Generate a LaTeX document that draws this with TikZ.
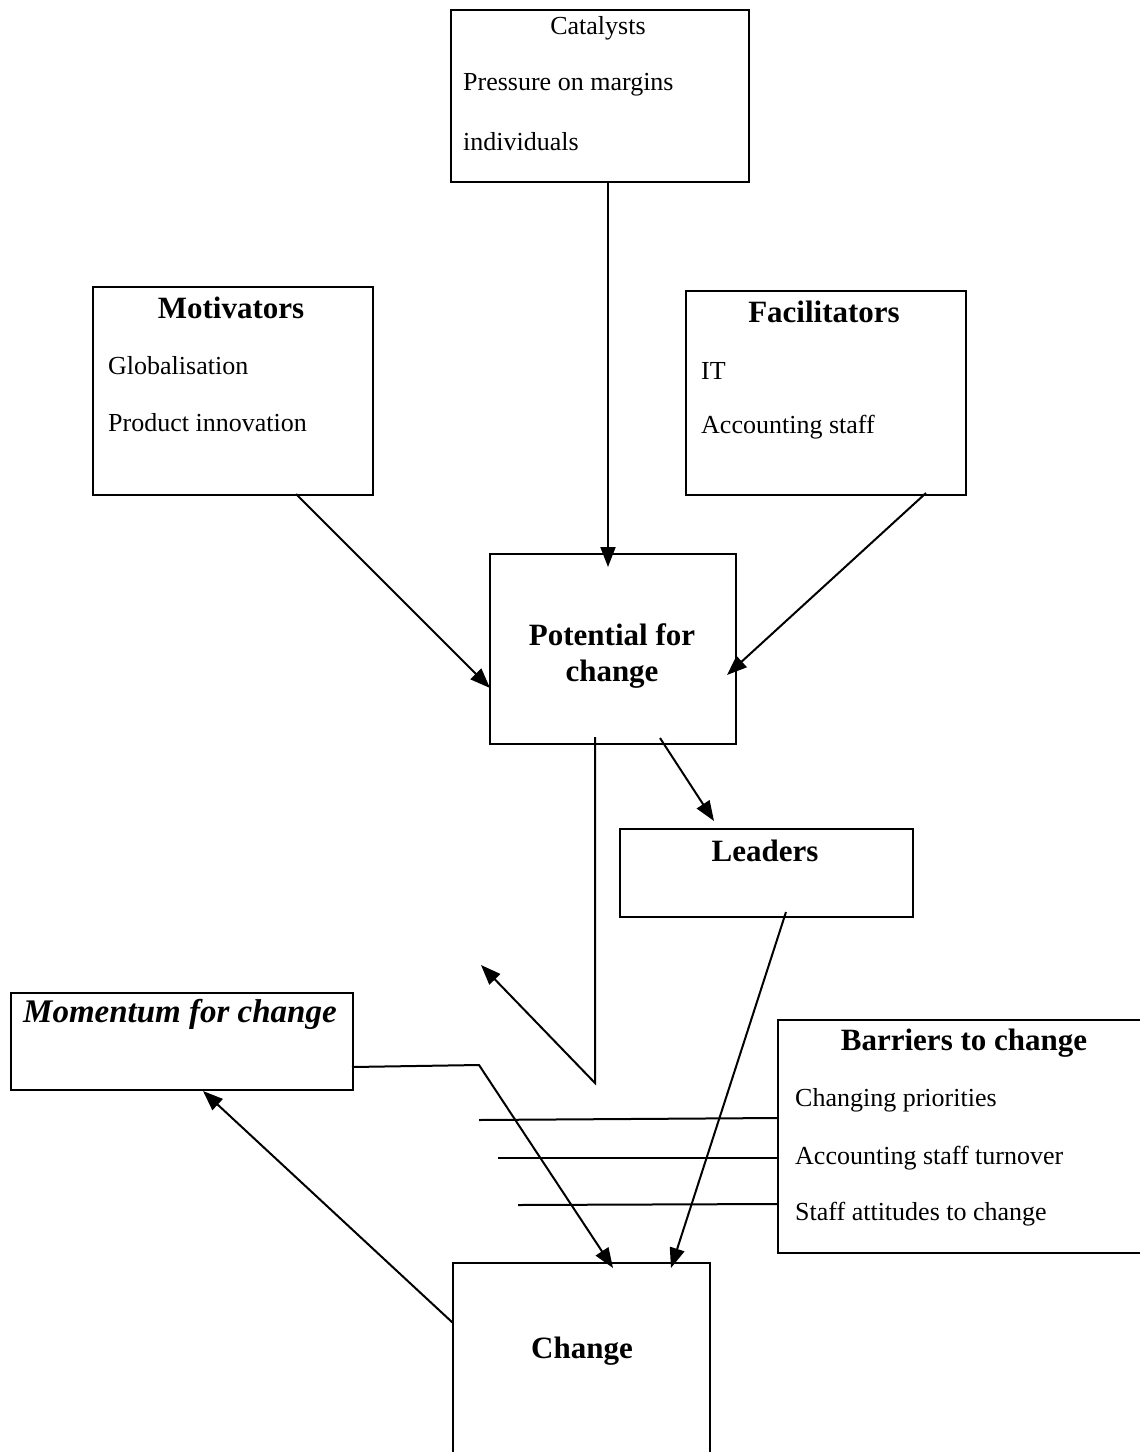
\documentclass[tikz,border=0pt]{standalone}
\usepackage{fontspec}
\setmainfont{Liberation Serif}
\usetikzlibrary{arrows.meta}
\begin{document}
\begin{tikzpicture}[x=1pt,y=-1pt,
  boxframe/.style={draw,line width=1.5pt,inner sep=0pt,anchor=north west},
  headtxt/.style={inner sep=0pt,font=\fontsize{31}{36}\selectfont\bfseries},
  itemtxt/.style={inner sep=0pt,anchor=west,font=\fontsize{26}{30}\selectfont},
  link/.style={line width=2pt,-{Triangle[length=20pt,width=15pt]}},
  plain/.style={line width=2pt}]
\useasboundingbox (0,0) rectangle (1140,1452);

% boxes
\node[boxframe,minimum width=298pt,minimum height=172pt] (cat) at (450,9) {};
\node[boxframe,minimum width=280pt,minimum height=208pt] (mot) at (92,286) {};
\node[boxframe,minimum width=280pt,minimum height=204pt] (fac) at (685,290) {};
\node[boxframe,minimum width=246pt,minimum height=190pt] (pot) at (489,553) {};
\node[boxframe,minimum width=293pt,minimum height=88pt] (lead) at (619,828) {};
\node[boxframe,minimum width=342pt,minimum height=97pt] (mom) at (10,992) {};
% boxes running off the page edge: three sides only
\coordinate (barTR) at (1140,1020);
\coordinate (barTL) at (778,1020);
\coordinate (barBL) at (778,1253);
\coordinate (barBR) at (1140,1253);
\draw[line width=1.5pt] (barTR) -- (barTL) -- (barBL) -- (barBR);
\coordinate (chgBL) at (453,1452);
\coordinate (chgTL) at (453,1263);
\coordinate (chgTR) at (710,1263);
\coordinate (chgBR) at (710,1452);
\draw[line width=1.5pt] (chgBL) -- (chgTL) -- (chgTR) -- (chgBR);

% texts
\node[inner sep=0pt,font=\fontsize{26}{30}\selectfont] (catT) at (598,28) {Catalysts};
\node[itemtxt] (cat1) at (463,85) {Pressure on margins};
\node[itemtxt] (cat2) at (463,142) {individuals};

\node[headtxt] (motT) at (231,308) {Motivators};
\node[itemtxt] (mot1) at (108,366) {Globalisation};
\node[itemtxt] (mot2) at (108,423) {Product innovation};

\node[headtxt] (facT) at (824,312) {Facilitators};
\node[itemtxt] (fac1) at (701,371) {IT};
\node[itemtxt] (fac2) at (701,427) {Accounting staff};

\node[headtxt,align=center] (potT) at (612,656) {Potential for\\change};
\node[headtxt] (leadT) at (765,851) {Leaders};
\node[headtxt,anchor=west,font=\fontsize{33}{36}\selectfont\bfseries\itshape] (momT) at (23,1014) {Momentum for change};

\node[headtxt] (barT) at (964,1043) {Barriers to change};
\node[itemtxt] (bar1) at (795,1100) {Changing priorities};
\node[itemtxt] (bar2) at (795,1158) {Accounting staff turnover};
\node[itemtxt] (bar3) at (795,1214) {Staff attitudes to change};

\node[headtxt] (chgT) at (582,1351) {Change};

% connector end points
\coordinate (catOut) at (608,181);
\coordinate (potIn) at (608,567);
\coordinate (motOut) at (296,494);
\coordinate (potInL) at (490,688);
\coordinate (facOut) at (926,493);
\coordinate (potInR) at (727,675);
\coordinate (potOutR) at (660,738);
\coordinate (leadIn) at (714,821);
\coordinate (potOutL) at (595,737);
\coordinate (turn) at (595,1083);
\coordinate (backTip) at (481,965);
\coordinate (leadOut) at (786,912);
\coordinate (chgInR) at (671,1268);
\coordinate (momOut) at (352,1067);
\coordinate (bend) at (479,1065);
\coordinate (chgInL) at (613,1268);
\coordinate (chgOut) at (453,1323);
\coordinate (momIn) at (203,1091);
\coordinate (b1) at (479,1120);
\coordinate (b2) at (498,1158);
\coordinate (b3) at (518,1205);
\coordinate (b1e) at (778,1118);
\coordinate (b2e) at (778,1158);
\coordinate (b3e) at (778,1204);

% connectors
\draw[link] (catOut) -- (potIn);
\draw[link] (motOut) -- (potInL);
\draw[link] (facOut) -- (potInR);
\draw[link] (potOutR) -- (leadIn);
\draw[link] (potOutL) -- (turn) -- (backTip);
\draw[link] (leadOut) -- (chgInR);
\draw[link] (momOut) -- (bend) -- (chgInL);
\draw[link] (chgOut) -- (momIn);
\draw[plain] (b1) -- (b1e);
\draw[plain] (b2) -- (b2e);
\draw[plain] (b3) -- (b3e);
\end{tikzpicture}
\end{document}
